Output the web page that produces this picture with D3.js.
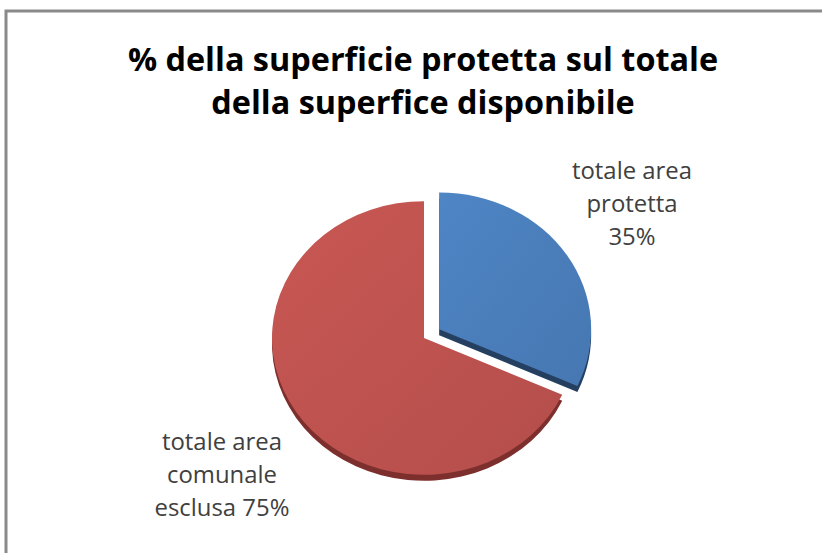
<!DOCTYPE html>
<html>
<head>
<meta charset="utf-8">
<script src="https://cdn.jsdelivr.net/npm/d3@7"></script>
<style>
  body { margin: 0; background: #fff; }
  svg { display: block; }
</style>
</head>
<body>
<div id="chart-area"></div>
<script>
const titleLines = ["% della superficie protetta sul totale", "della superfice disponibile"]
const categories = ["totale area protetta", "totale area comunale esclusa"]
const values = [35, 75]
const labelLines = [["totale area", "protetta", "35%"], ["totale area", "comunale", "esclusa 75%"]]
const colors = ["#4a7ebb", "#be524f"]
const sideColors = ["#243f60", "#7d2f2d"]

const WIDTH = 822
const HEIGHT = 553
const CX = 424
const CY = 338
const RX = 152
const TILT = 0.9
const DEPTH = 6
const EXPLODE = 18
const FONT = "'Open Sans', Lato, sans-serif"

const svg = d3.select("#chart-area").append("svg")
    .attr("width", WIDTH)
    .attr("height", HEIGHT)

// frame (top and left edges)
svg.append("path")
    .attr("d", `M6,${HEIGHT} L6,11 L${WIDTH},11`)
    .attr("fill", "none")
    .attr("stroke", "#8a8a8a")
    .attr("stroke-width", 3)

// scale a text block so a given line gets the target width
function fitSize(textSel, base, lineNode, target) {
    const w = lineNode.getComputedTextLength()
    textSel.attr("font-size", (base * target / w).toFixed(1) + "px")
}

const title = svg.append("text")
    .attr("text-anchor", "middle")
    .attr("font-family", FONT)
    .attr("font-weight", "bold")
    .attr("font-size", "28px")
    .attr("fill", "#000")
title.selectAll("tspan")
    .data(titleLines)
    .enter().append("tspan")
    .attr("x", 423)
    .attr("y", (d, i) => 71 + i * 43)
    .text(d => d)
fitSize(title, 28, title.select("tspan").node(), 590)

const defs = svg.append("defs")
colors.forEach((c, i) => {
    const grad = defs.append("linearGradient")
        .attr("id", "grad" + i)
        .attr("x1", "0%").attr("y1", "0%")
        .attr("x2", "100%").attr("y2", "100%")
    grad.append("stop").attr("offset", "0%").attr("stop-color", d3.color(c).brighter(0.15))
    grad.append("stop").attr("offset", "100%").attr("stop-color", d3.color(c).darker(0.15))
})

const pie = d3.pie().sort(null).value(d => d)
const arcs = pie(values)
const arc = d3.arc().innerRadius(0).outerRadius(RX)

const offset = (d, i) => {
    if (i !== 0) return [0, 0]
    const mid = (d.startAngle + d.endAngle) / 2
    return [Math.sin(mid) * EXPLODE, -Math.cos(mid) * EXPLODE * TILT]
}

const g = svg.append("g")

// sides (depth)
g.selectAll("path.side")
    .data(arcs)
    .enter().append("path")
    .attr("class", "side")
    .attr("transform", (d, i) => {
        const o = offset(d, i)
        return `translate(${CX + o[0]}, ${CY + o[1] + DEPTH}) scale(1, ${TILT})`
    })
    .attr("d", arc)
    .attr("fill", (d, i) => sideColors[i])

// top faces
g.selectAll("path.top")
    .data(arcs)
    .enter().append("path")
    .attr("class", "top")
    .attr("transform", (d, i) => {
        const o = offset(d, i)
        return `translate(${CX + o[0]}, ${CY + o[1]}) scale(1, ${TILT})`
    })
    .attr("d", arc)
    .attr("fill", (d, i) => `url(#grad${i})`)

const labelPos = [[632, 179], [222, 450]]
labelLines.forEach((lines, i) => {
    const t = svg.append("text")
        .attr("text-anchor", "middle")
        .attr("font-family", FONT)
        .attr("font-size", "20px")
        .attr("fill", "#404040")
    t.selectAll("tspan")
        .data(lines)
        .enter().append("tspan")
        .attr("x", labelPos[i][0])
        .attr("y", (d, j) => labelPos[i][1] + j * 33)
        .text(d => d)
    fitSize(t, 20, t.select("tspan").node(), 120)
})
</script>
</body>
</html>
